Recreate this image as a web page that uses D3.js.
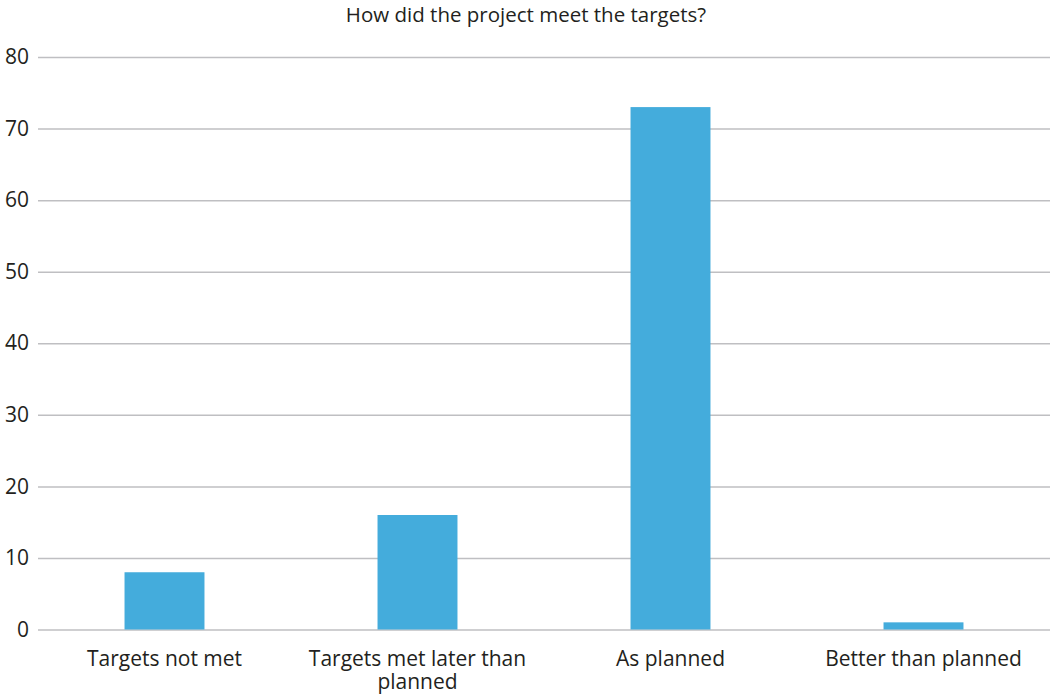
<!DOCTYPE html>
<html>
<head>
<meta charset="utf-8">
<script src="https://cdn.jsdelivr.net/npm/d3@7"></script>
<style>
  html, body { margin: 0; padding: 0; background: #fff; }
  svg { display: block; font-family: "Open Sans", sans-serif; }
</style>
</head>
<body>
<svg id="chart" width="1052" height="698"></svg>
<script>
const categories = ["Targets not met", "Targets met later than planned", "As planned", "Better than planned"];
const categoryLines = [["Targets not met"], ["Targets met later than", "planned"], ["As planned"], ["Better than planned"]];
const values = [8, 16, 73, 1];
const yTicks = [0, 10, 20, 30, 40, 50, 60, 70, 80];
const title = "How did the project meet the targets?";

(function () {
const svg = d3.select("#chart");
const mLeft = 38, mRight = 1050, mTop = 57, mBottom = 629.5;

const x = d3.scaleBand().domain(categories).range([mLeft, mRight])
  .paddingInner(0.684).paddingOuter(0.342);
const y = d3.scaleLinear().domain([0, 80]).range([mBottom, mTop]);

// gridlines
const yAxis = d3.axisLeft(y).tickValues(yTicks).tickSize(-(mRight - mLeft)).tickPadding(9).tickFormat(d3.format("d"));
const gy = svg.append("g").attr("transform", `translate(${mLeft},0)`).call(yAxis);
gy.select(".domain").remove();
gy.selectAll(".tick line").attr("stroke", "#bfbfc2").attr("stroke-width", 1.5);
gy.selectAll(".tick text").attr("fill", "#231f20").attr("font-size", 21)
  .attr("font-family", "Open Sans, sans-serif");

// bars
svg.append("g").selectAll("rect").data(values).join("rect")
  .attr("x", (d, i) => x(categories[i]))
  .attr("width", x.bandwidth())
  .attr("y", d => y(d))
  .attr("height", d => y(0) - y(d))
  .attr("fill", "#44acdc");

// x labels
const gx = svg.append("g");
categories.forEach((c, i) => {
  const t = gx.append("text")
    .attr("x", x(c) + x.bandwidth() / 2)
    .attr("y", 666)
    .attr("text-anchor", "middle")
    .attr("font-size", 21)
    .attr("fill", "#231f20");
  categoryLines[i].forEach((line, j) => {
    t.append("tspan").attr("x", x(c) + x.bandwidth() / 2).attr("dy", j === 0 ? 0 : 23).text(line);
  });
});

// title
svg.append("text")
  .attr("x", 526).attr("y", 22)
  .attr("text-anchor", "middle")
  .attr("font-size", 20.5)
  .attr("fill", "#231f20")
  .text(title);
})();
</script>
</body>
</html>
